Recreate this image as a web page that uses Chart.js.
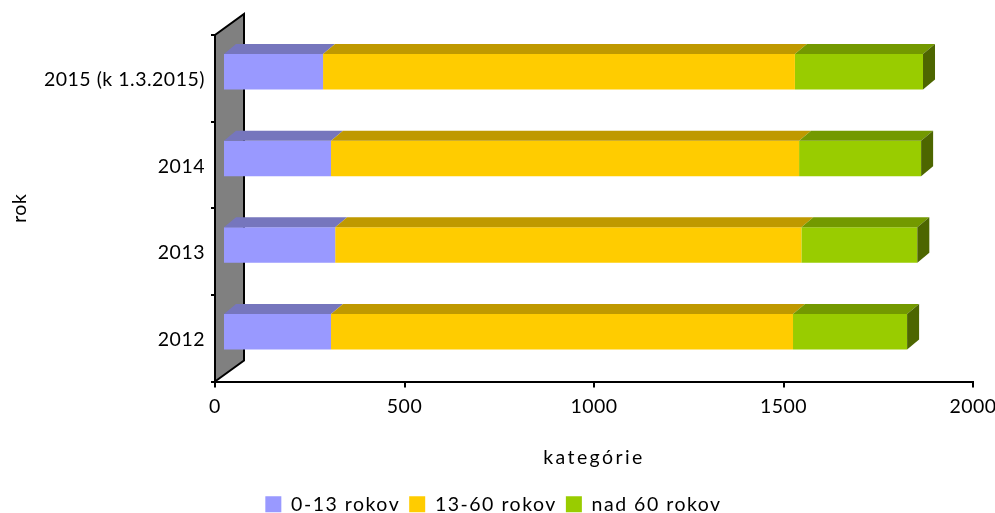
<!DOCTYPE html>
<html>
<head>
<meta charset="utf-8">
<style>
  html, body { margin: 0; padding: 0; background: #fff; }
  #wrap { width: 995px; height: 513px; overflow: hidden; }
</style>
<script src="https://cdn.jsdelivr.net/npm/chart.js@4"></script>
</head>
<body>
<div id="wrap"><canvas id="chart" width="995" height="513"></canvas></div>
<script>
const categories = ["2015 (k 1.3.2015)", "2014", "2013", "2012"];
const age0to13 = [264, 285, 296, 285];
const age13to60 = [1245, 1235, 1230, 1219];
const age60plus = [338, 322, 306, 301];
const xTicks = [0, 500, 1000, 1500, 2000];

const FONT = "Lato, 'Open Sans', sans-serif";
const FONT_SIZE = 19.5;
const DEPTH_X = 12;
const DEPTH_Y = 10;
const WALL_X = 29;
const WALL_Y = 21;
const LEGEND_SHIFT = 7;
const topColors = ["#7676bd", "#bf9900", "#739900"];
const sideColor = "#4d6600";

// run a draw method with its own letter spacing
function spaced(obj, method, spacing) {
  const orig = obj[method];
  obj[method] = function (...args) {
    const ctx = this.ctx;
    const old = ctx.letterSpacing;
    ctx.letterSpacing = spacing;
    orig.apply(this, args);
    ctx.letterSpacing = old;
  };
}

const spacingPlugin = {
  id: "spacing",
  beforeLayout(chart) {
    // legend measures its items during layout
    chart.ctx.letterSpacing = "1.5px";
  },
  afterLayout(chart) {
    chart.ctx.letterSpacing = "0.5px";
    chart.legend.left += LEGEND_SHIFT;
    chart.legend.right += LEGEND_SHIFT;
    if (!chart.$spaced) {
      spaced(chart.legend, "draw", "1.5px");
      spaced(chart.scales.x, "drawTitle", "2.4px");
      chart.$spaced = true;
    }
  }
};

// grey side wall behind the bars
const wallPlugin = {
  id: "wall",
  beforeDraw(chart) {
    const { ctx, chartArea: a } = chart;
    ctx.save();
    ctx.fillStyle = "#808080";
    ctx.strokeStyle = "#000";
    ctx.lineWidth = 2;
    ctx.beginPath();
    ctx.moveTo(a.left, a.bottom);
    ctx.lineTo(a.left + WALL_X, a.bottom - WALL_Y);
    ctx.lineTo(a.left + WALL_X, a.top - WALL_Y);
    ctx.lineTo(a.left, a.top);
    ctx.closePath();
    ctx.fill();
    ctx.stroke();
    ctx.restore();
  }
};

// pseudo 3D: bars sit in front of the wall, top and side faces added by hand
const boxPlugin = {
  id: "box",
  beforeDatasetsDraw(chart) {
    chart.ctx.save();
    chart.ctx.translate(8, -6.5);
  },
  afterDatasetsDraw(chart) {
    const ctx = chart.ctx;
    chart.data.datasets.forEach((ds, i) => {
      const meta = chart.getDatasetMeta(i);
      meta.data.forEach(bar => {
        const top = bar.y - bar.height / 2;
        const bottom = bar.y + bar.height / 2;
        ctx.fillStyle = topColors[i];
        ctx.beginPath();
        ctx.moveTo(bar.base, top);
        ctx.lineTo(bar.base + DEPTH_X, top - DEPTH_Y);
        ctx.lineTo(bar.x + DEPTH_X, top - DEPTH_Y);
        ctx.lineTo(bar.x, top);
        ctx.closePath();
        ctx.fill();
        if (i === chart.data.datasets.length - 1) {
          ctx.fillStyle = sideColor;
          ctx.beginPath();
          ctx.moveTo(bar.x, top);
          ctx.lineTo(bar.x + DEPTH_X, top - DEPTH_Y);
          ctx.lineTo(bar.x + DEPTH_X, bottom - DEPTH_Y);
          ctx.lineTo(bar.x, bottom);
          ctx.closePath();
          ctx.fill();
        }
      });
    });
    ctx.restore();
  }
};

new Chart(document.getElementById("chart"), {
  type: "bar",
  data: {
    labels: categories,
    datasets: [
      { label: "0-13 rokov", data: age0to13, backgroundColor: "#9999ff" },
      { label: "13-60 rokov", data: age13to60, backgroundColor: "#ffcc00" },
      { label: "nad 60 rokov", data: age60plus, backgroundColor: "#99cc00" }
    ]
  },
  plugins: [spacingPlugin, wallPlugin, boxPlugin],
  options: {
    indexAxis: "y",
    responsive: false,
    animation: false,
    devicePixelRatio: 1,
    layout: { padding: { top: 35, right: 22, bottom: -11, left: 0 } },
    datasets: { bar: { categoryPercentage: 1, barPercentage: 0.41, clip: false } },
    scales: {
      x: {
        stacked: true,
        min: 0,
        max: 2000,
        afterBuildTicks(scale) { scale.ticks = xTicks.map(v => ({ value: v })); },
        afterFit(scale) {
          scale.height = 104;
          scale.paddingLeft = 0;
          scale.paddingRight = 0;
        },
        grid: { drawOnChartArea: false, color: "#000", tickLength: 6, lineWidth: 2 },
        border: { color: "#000", width: 2 },
        ticks: { color: "#000", font: { family: FONT, size: FONT_SIZE }, maxRotation: 0, padding: 8, callback: v => String(v) },
        title: { display: true, text: "kategórie", color: "#000", font: { family: FONT, size: FONT_SIZE }, padding: { top: 19, bottom: 16 } }
      },
      y: {
        stacked: true,
        afterFit(scale) {
          scale.width = 215;
          scale.paddingTop = 0;
          scale.paddingBottom = 0;
        },
        grid: { drawOnChartArea: false, offset: true, color: "#000", tickLength: 4, lineWidth: 2 },
        border: { color: "#000", width: 2 },
        ticks: { color: "#000", font: { family: FONT, size: FONT_SIZE }, padding: 6, labelOffset: 1.5 },
        title: { display: true, text: "rok", color: "#000", font: { family: FONT, size: FONT_SIZE }, padding: { top: 8, bottom: 0 } }
      }
    },
    plugins: {
      tooltip: { enabled: false },
      legend: {
        position: "bottom",
        labels: { boxWidth: 16, boxHeight: 16, padding: 9, color: "#000", font: { family: FONT, size: FONT_SIZE } }
      }
    }
  }
});
</script>
</body>
</html>
